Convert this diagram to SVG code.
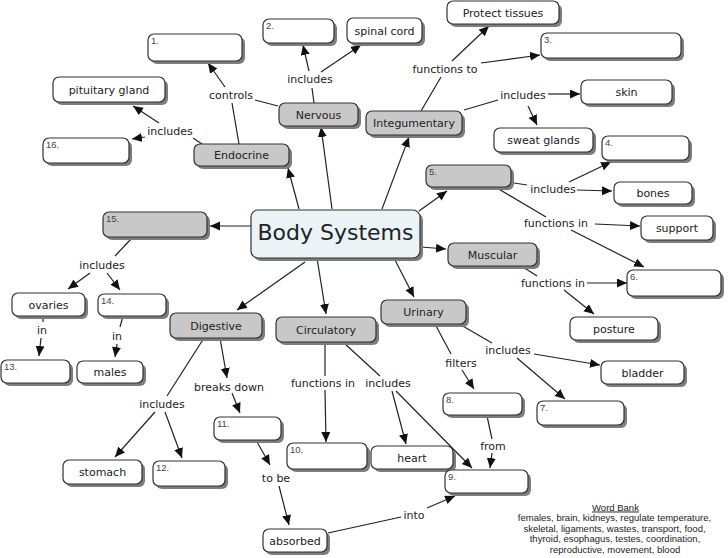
<svg xmlns="http://www.w3.org/2000/svg" width="728" height="558" viewBox="0 0 728 558">
<style>
.sh{fill:#7d7d7d}
.b{fill:#fff;stroke:#333;stroke-width:1.2}
.g{fill:#c8c8c8;stroke:#333;stroke-width:1.2}
.c{fill:#eaf3f6;stroke:#333;stroke-width:1.2}
.t{font-family:"DejaVu Sans",Verdana,sans-serif;font-size:11px;fill:#222;text-anchor:middle}
.n{font-family:"Liberation Sans",Arial,sans-serif;font-size:9.5px;fill:#444}
.l{font-family:"DejaVu Sans",Verdana,sans-serif;font-size:11px;fill:#222;text-anchor:middle}
.w{font-family:"Liberation Sans",Arial,sans-serif;font-size:9.5px;fill:#222;text-anchor:middle}
#connectors line{stroke:#222;stroke-width:1.2;fill:none}
#connectors line.a{marker-end:url(#ah)}
</style>
<defs>
<marker id="ah" markerUnits="userSpaceOnUse" markerWidth="11" markerHeight="10" refX="10" refY="4.5" orient="auto"><path d="M0,0 L10,4.5 L0,9 z" fill="#111"/></marker>
</defs>
<rect width="728" height="558" fill="#fff"/>
<g id="connectors">
<line class="a" x1="299" y1="209" x2="288" y2="168"/>
<line class="a" x1="332" y1="209" x2="321" y2="127"/>
<line class="a" x1="382" y1="209" x2="409" y2="137"/>
<line class="a" x1="419" y1="211" x2="447" y2="191"/>
<line class="a" x1="251" y1="226" x2="210" y2="226"/>
<line class="a" x1="421" y1="247" x2="446" y2="249"/>
<line class="a" x1="305" y1="262" x2="237" y2="310"/>
<line class="a" x1="317" y1="258" x2="326" y2="314"/>
<line class="a" x1="395" y1="260" x2="414" y2="297"/>
<line x1="314" y1="103" x2="312" y2="88"/>
<line class="a" x1="309" y1="71" x2="303" y2="45"/>
<line class="a" x1="321" y1="72" x2="361" y2="45"/>
<line x1="278" y1="106" x2="255" y2="100"/>
<line x1="239" y1="144" x2="232" y2="103"/>
<line class="a" x1="225" y1="87" x2="208" y2="63"/>
<line x1="202" y1="144" x2="193" y2="138"/>
<line class="a" x1="159" y1="123" x2="133" y2="106"/>
<line class="a" x1="145" y1="137" x2="132" y2="139"/>
<line x1="421" y1="111" x2="441" y2="77"/>
<line class="a" x1="452" y1="61" x2="489" y2="26"/>
<line class="a" x1="481" y1="63" x2="540" y2="55"/>
<line x1="464" y1="110" x2="498" y2="100"/>
<line class="a" x1="548" y1="94" x2="580" y2="94"/>
<line class="a" x1="528" y1="106" x2="537" y2="125"/>
<line x1="514" y1="183" x2="527" y2="185"/>
<line class="a" x1="569" y1="182" x2="611" y2="162"/>
<line class="a" x1="577" y1="190" x2="612" y2="191"/>
<line x1="497" y1="188" x2="546" y2="217"/>
<line class="a" x1="595" y1="224" x2="640" y2="226"/>
<line class="a" x1="571" y1="230" x2="644" y2="267"/>
<line x1="523" y1="267" x2="537" y2="276"/>
<line class="a" x1="587" y1="283" x2="627" y2="283"/>
<line class="a" x1="564" y1="290" x2="594" y2="314"/>
<line x1="461" y1="325" x2="492" y2="343"/>
<line class="a" x1="534" y1="354" x2="600" y2="365"/>
<line class="a" x1="517" y1="358" x2="565" y2="399"/>
<line x1="435" y1="324" x2="451" y2="354"/>
<line class="a" x1="462" y1="370" x2="474" y2="389"/>
<line x1="487" y1="416" x2="492" y2="439"/>
<line class="a" x1="492" y1="453" x2="490" y2="468"/>
<line x1="325" y1="342" x2="325" y2="376"/>
<line class="a" x1="325" y1="390" x2="326" y2="442"/>
<line x1="344" y1="343" x2="380" y2="376"/>
<line class="a" x1="392" y1="391" x2="406" y2="444"/>
<line class="a" x1="396" y1="391" x2="472" y2="468"/>
<line class="a" x1="220" y1="338" x2="227" y2="378"/>
<line class="a" x1="232" y1="393" x2="240" y2="413"/>
<line x1="204" y1="338" x2="167" y2="396"/>
<line class="a" x1="155" y1="412" x2="115" y2="457"/>
<line class="a" x1="165" y1="412" x2="182" y2="458"/>
<line class="a" x1="256" y1="440" x2="270" y2="465"/>
<line class="a" x1="279" y1="486" x2="289" y2="525"/>
<line x1="328" y1="533" x2="401" y2="517"/>
<line class="a" x1="427" y1="508" x2="455" y2="496"/>
<line x1="133" y1="237" x2="115" y2="256"/>
<line class="a" x1="90" y1="273" x2="68" y2="289"/>
<line class="a" x1="107" y1="273" x2="120" y2="290"/>
<line x1="43" y1="316" x2="43" y2="322"/>
<line class="a" x1="41" y1="338" x2="39" y2="356"/>
<line x1="123" y1="316" x2="120" y2="327"/>
<line class="a" x1="117" y1="344" x2="115" y2="357"/>
</g>
<g id="labels">
<text class="l" x="231" y="99">controls</text>
<text class="l" x="310" y="83">includes</text>
<text class="l" x="170" y="135">includes</text>
<text class="l" x="445" y="73">functions to</text>
<text class="l" x="523" y="99">includes</text>
<text class="l" x="553" y="193">includes</text>
<text class="l" x="556" y="227">functions in</text>
<text class="l" x="553" y="287">functions in</text>
<text class="l" x="508" y="354">includes</text>
<text class="l" x="461" y="367">filters</text>
<text class="l" x="493" y="450">from</text>
<text class="l" x="323" y="387">functions in</text>
<text class="l" x="388" y="387">includes</text>
<text class="l" x="229" y="391">breaks down</text>
<text class="l" x="162" y="408">includes</text>
<text class="l" x="276" y="482">to be</text>
<text class="l" x="414" y="519">into</text>
<text class="l" x="102" y="269">includes</text>
<text class="l" x="42" y="334">in</text>
<text class="l" x="117" y="340">in</text>
</g>
<g id="n1"><rect class="sh" x="151" y="37" width="94" height="27" rx="6"/><rect class="b" x="148" y="34" width="94" height="27" rx="6"/><text class="n" x="151" y="44">1.</text></g>
<g id="n2"><rect class="sh" x="266" y="22" width="71" height="24" rx="6"/><rect class="b" x="263" y="19" width="71" height="24" rx="6"/><text class="n" x="266" y="29">2.</text></g>
<g id="spinal"><rect class="sh" x="350" y="21" width="75" height="25" rx="6"/><rect class="b" x="347" y="18" width="75" height="25" rx="6"/><text class="t" x="384.5" y="34.5">spinal cord</text></g>
<g id="pituitary"><rect class="sh" x="56" y="80" width="112" height="25" rx="6"/><rect class="b" x="53" y="77" width="112" height="25" rx="6"/><text class="t" x="109" y="93.5">pituitary gland</text></g>
<g id="nervous"><rect class="sh" x="282" y="106" width="79" height="23" rx="6"/><rect class="g" x="279" y="103" width="79" height="23" rx="6"/><text class="t" x="318.5" y="118.5">Nervous</text></g>
<g id="n16"><rect class="sh" x="46" y="141" width="86" height="25" rx="6"/><rect class="b" x="43" y="138" width="86" height="25" rx="6"/><text class="n" x="46" y="148">16.</text></g>
<g id="endocrine"><rect class="sh" x="197" y="147" width="95" height="22" rx="6"/><rect class="g" x="194" y="144" width="95" height="22" rx="6"/><text class="t" x="241.5" y="159">Endocrine</text></g>
<g id="protect"><rect class="sh" x="450" y="4" width="112" height="23" rx="6"/><rect class="b" x="447" y="1" width="112" height="23" rx="6"/><text class="t" x="503" y="16.5">Protect tissues</text></g>
<g id="n3"><rect class="sh" x="544" y="36" width="140" height="25" rx="6"/><rect class="b" x="541" y="33" width="140" height="25" rx="6"/><text class="n" x="544" y="43">3.</text></g>
<g id="skin"><rect class="sh" x="584" y="83" width="91" height="24" rx="6"/><rect class="b" x="581" y="80" width="91" height="24" rx="6"/><text class="t" x="626.5" y="96">skin</text></g>
<g id="integumentary"><rect class="sh" x="369" y="114" width="96" height="24" rx="6"/><rect class="g" x="366" y="111" width="96" height="24" rx="6"/><text class="t" x="414" y="127">Integumentary</text></g>
<g id="sweat"><rect class="sh" x="497" y="131" width="99" height="24" rx="6"/><rect class="b" x="494" y="128" width="99" height="24" rx="6"/><text class="t" x="543.5" y="144">sweat glands</text></g>
<g id="n4"><rect class="sh" x="605" y="139" width="87" height="24" rx="6"/><rect class="b" x="602" y="136" width="87" height="24" rx="6"/><text class="n" x="605" y="146">4.</text></g>
<g id="n5"><rect class="sh" x="429" y="168" width="85" height="22" rx="6"/><rect class="g" x="426" y="165" width="85" height="22" rx="6"/><text class="n" x="429" y="175">5.</text></g>
<g id="bones"><rect class="sh" x="617" y="185" width="78" height="22" rx="6"/><rect class="b" x="614" y="182" width="78" height="22" rx="6"/><text class="t" x="653" y="197">bones</text></g>
<g id="n15"><rect class="sh" x="106" y="215" width="104" height="25" rx="6"/><rect class="g" x="103" y="212" width="104" height="25" rx="6"/><text class="n" x="106" y="222">15.</text></g>
<g id="body"><rect class="sh" x="254" y="213" width="169" height="48" rx="7"/><rect class="c" x="251" y="210" width="169" height="48" rx="7"/><text class="t" x="335.5" y="240" style="font-size:22px">Body Systems</text></g>
<g id="ovaries"><rect class="sh" x="15" y="296" width="73" height="23" rx="6"/><rect class="b" x="12" y="293" width="73" height="23" rx="6"/><text class="t" x="48.5" y="308.5">ovaries</text></g>
<g id="n14"><rect class="sh" x="101" y="297" width="68" height="22" rx="6"/><rect class="b" x="98" y="294" width="68" height="22" rx="6"/><text class="n" x="101" y="304">14.</text></g>
<g id="digestive"><rect class="sh" x="173" y="316" width="92" height="25" rx="6"/><rect class="g" x="170" y="313" width="92" height="25" rx="6"/><text class="t" x="216" y="329.5">Digestive</text></g>
<g id="circulatory"><rect class="sh" x="279" y="320" width="100" height="25" rx="6"/><rect class="g" x="276" y="317" width="100" height="25" rx="6"/><text class="t" x="326" y="333.5">Circulatory</text></g>
<g id="n13"><rect class="sh" x="4" y="363" width="69" height="23" rx="6"/><rect class="b" x="1" y="360" width="69" height="23" rx="6"/><text class="n" x="4" y="370">13.</text></g>
<g id="males"><rect class="sh" x="80" y="364" width="66" height="22" rx="6"/><rect class="b" x="77" y="361" width="66" height="22" rx="6"/><text class="t" x="110" y="376">males</text></g>
<g id="support"><rect class="sh" x="644" y="219" width="72" height="24" rx="6"/><rect class="b" x="641" y="216" width="72" height="24" rx="6"/><text class="t" x="677" y="232">support</text></g>
<g id="muscular"><rect class="sh" x="451" y="246" width="89" height="23" rx="6"/><rect class="g" x="448" y="243" width="89" height="23" rx="6"/><text class="t" x="492.5" y="258.5">Muscular</text></g>
<g id="n6"><rect class="sh" x="630" y="273" width="94" height="26" rx="6"/><rect class="b" x="627" y="270" width="94" height="26" rx="6"/><text class="n" x="630" y="280">6.</text></g>
<g id="urinary"><rect class="sh" x="384" y="303" width="85" height="24" rx="6"/><rect class="g" x="381" y="300" width="85" height="24" rx="6"/><text class="t" x="423.5" y="316">Urinary</text></g>
<g id="posture"><rect class="sh" x="573" y="320" width="88" height="23" rx="6"/><rect class="b" x="570" y="317" width="88" height="23" rx="6"/><text class="t" x="614" y="332.5">posture</text></g>
<g id="bladder"><rect class="sh" x="604" y="364" width="83" height="23" rx="6"/><rect class="b" x="601" y="361" width="83" height="23" rx="6"/><text class="t" x="642.5" y="376.5">bladder</text></g>
<g id="n11"><rect class="sh" x="217" y="420" width="67" height="23" rx="6"/><rect class="b" x="214" y="417" width="67" height="23" rx="6"/><text class="n" x="217" y="427">11.</text></g>
<g id="n10"><rect class="sh" x="290" y="446" width="80" height="26" rx="6"/><rect class="b" x="287" y="443" width="80" height="26" rx="6"/><text class="n" x="290" y="453">10.</text></g>
<g id="stomach"><rect class="sh" x="66" y="463" width="79" height="24" rx="6"/><rect class="b" x="63" y="460" width="79" height="24" rx="6"/><text class="t" x="102.5" y="476">stomach</text></g>
<g id="n12"><rect class="sh" x="156" y="464" width="72" height="25" rx="6"/><rect class="b" x="153" y="461" width="72" height="25" rx="6"/><text class="n" x="156" y="471">12.</text></g>
<g id="absorbed"><rect class="sh" x="266" y="532" width="64" height="23" rx="6"/><rect class="b" x="263" y="529" width="64" height="23" rx="6"/><text class="t" x="295" y="544.5">absorbed</text></g>
<g id="n8"><rect class="sh" x="446" y="396" width="79" height="22" rx="6"/><rect class="b" x="443" y="393" width="79" height="22" rx="6"/><text class="n" x="446" y="403">8.</text></g>
<g id="n7"><rect class="sh" x="540" y="404" width="87" height="24" rx="6"/><rect class="b" x="537" y="401" width="87" height="24" rx="6"/><text class="n" x="540" y="411">7.</text></g>
<g id="heart"><rect class="sh" x="374" y="449" width="82" height="23" rx="6"/><rect class="b" x="371" y="446" width="82" height="23" rx="6"/><text class="t" x="412" y="461.5">heart</text></g>
<g id="n9"><rect class="sh" x="448" y="473" width="83" height="23" rx="6"/><rect class="b" x="445" y="470" width="83" height="23" rx="6"/><text class="n" x="448" y="480">9.</text></g>
<g id="wordbank">
<text class="w" x="615.5" y="510.5" text-decoration="underline">Word Bank</text>
<text class="w" x="614.5" y="521">females, brain, kidneys, regulate temperature,</text>
<text class="w" x="614.5" y="531.5">skeletal, ligaments, wastes, transport, food,</text>
<text class="w" x="615" y="542">thyroid, esophagus, testes, coordination,</text>
<text class="w" x="615" y="552.5">reproductive, movement, blood</text>
</g>
</svg>
